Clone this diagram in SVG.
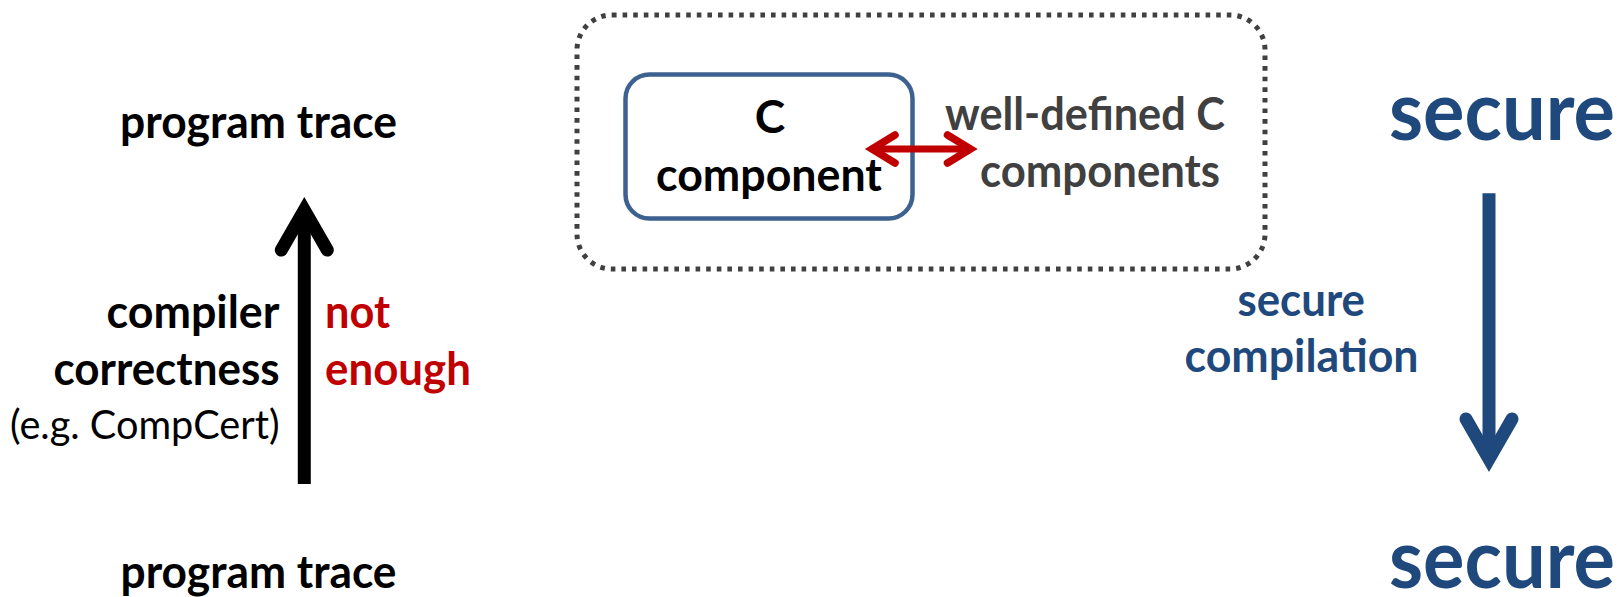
<svg xmlns="http://www.w3.org/2000/svg" width="1621" height="597" viewBox="0 0 1621 597">
  <style>
    text { font-family: Lato, "Open Sans", "Liberation Sans", sans-serif; }
    .bold { font-weight: 700; }
    .reg { font-weight: 400; }
    .black { fill: #000000; }
    .red { fill: #C00000; }
    .gray { fill: #404040; }
    .navy { fill: #1F497D; }
    .m { font-size: 46px; }
    .s { font-size: 41px; }
    .xl { font-size: 83px; }
    .shaft { fill: none; stroke-linecap: butt; }
  </style>
  <defs>
    <!-- open chevron heads, drawn in user units so they keep their size -->
    <marker id="headBlack" markerUnits="userSpaceOnUse" orient="auto" refX="0" refY="0" markerWidth="1" markerHeight="1" style="overflow:visible">
      <path d="M-40,-23 L0,0 L-40,23" fill="none" stroke="#000000" stroke-width="13" stroke-linecap="round" stroke-linejoin="miter" stroke-miterlimit="10"/>
    </marker>
    <marker id="headNavy" markerUnits="userSpaceOnUse" orient="auto" refX="0" refY="0" markerWidth="1" markerHeight="1" style="overflow:visible">
      <path d="M-40,-23 L0,0 L-40,23" fill="none" stroke="#1F497D" stroke-width="13" stroke-linecap="round" stroke-linejoin="miter" stroke-miterlimit="10"/>
    </marker>
    <marker id="headRed" markerUnits="userSpaceOnUse" orient="auto-start-reverse" refX="0" refY="0" markerWidth="1" markerHeight="1" style="overflow:visible">
      <path d="M-23,-14 L0,0 L-23,14" fill="none" stroke="#C00000" stroke-width="7.5" stroke-linecap="round" stroke-linejoin="miter" stroke-miterlimit="10"/>
    </marker>
  </defs>

  <!-- left column: compiler correctness -->
  <g id="trace-high">
    <text class="bold black m" x="120" y="138" textLength="277" lengthAdjust="spacingAndGlyphs">program trace</text>
  </g>
  <g id="trace-low">
    <text class="bold black m" x="120.5" y="588" textLength="276" lengthAdjust="spacingAndGlyphs">program trace</text>
  </g>
  <g id="correctness-label">
    <text class="bold black m" x="106.5" y="328" textLength="173" lengthAdjust="spacingAndGlyphs">compiler</text>
    <text class="bold black m" x="53.5" y="385" textLength="226" lengthAdjust="spacingAndGlyphs">correctness</text>
    <text class="reg black s" x="10" y="438.5" textLength="269.5" lengthAdjust="spacingAndGlyphs">(e.g. CompCert)</text>
  </g>
  <g id="not-enough-label">
    <text class="bold red m" x="325" y="328" textLength="65" lengthAdjust="spacingAndGlyphs">not</text>
    <text class="bold red m" x="325" y="385" textLength="146" lengthAdjust="spacingAndGlyphs">enough</text>
  </g>

  <!-- middle: component in its context -->
  <g id="context">
    <rect x="577" y="15" width="688" height="254" rx="35" ry="35" fill="none" stroke="#404040" stroke-width="5" stroke-dasharray="4.6 6"/>
  </g>
  <g id="component">
    <rect x="625.5" y="74.5" width="287" height="144" rx="24" ry="24" fill="#FFFFFF" stroke="#3E6290" stroke-width="4.5"/>
    <text class="bold black m" x="770" y="133.3" text-anchor="middle">C</text>
    <text class="bold black m" x="656" y="190.7" textLength="226" lengthAdjust="spacingAndGlyphs">component</text>
  </g>
  <g id="other-components">
    <text class="bold gray m" x="945" y="129.5" textLength="280" lengthAdjust="spacingAndGlyphs">well-defined C</text>
    <text class="bold gray m" x="980" y="187" textLength="240" lengthAdjust="spacingAndGlyphs">components</text>
  </g>

  <!-- right column: secure compilation -->
  <g id="secure-high">
    <text class="bold navy xl" x="1389" y="139.5" textLength="226" lengthAdjust="spacingAndGlyphs">secure</text>
  </g>
  <g id="secure-low">
    <text class="bold navy xl" x="1389" y="588" textLength="226" lengthAdjust="spacingAndGlyphs">secure</text>
  </g>
  <g id="secure-compilation-label">
    <text class="bold navy m" x="1237.5" y="316" textLength="127.5" lengthAdjust="spacingAndGlyphs">secure</text>
    <text class="bold navy m" x="1184.5" y="371.5" textLength="234" lengthAdjust="spacingAndGlyphs">compilation</text>
  </g>

  <!-- connectors -->
  <g id="connectors">
    <line class="shaft" x1="304.3" y1="484" x2="304.3" y2="210" stroke="#000000" stroke-width="13" marker-end="url(#headBlack)"/>
    <line class="shaft" x1="1489" y1="193.3" x2="1489" y2="459" stroke="#1F497D" stroke-width="13" marker-end="url(#headNavy)"/>
    <line class="shaft" x1="872" y1="149" x2="970.5" y2="149" stroke="#C00000" stroke-width="7" marker-start="url(#headRed)" marker-end="url(#headRed)"/>
  </g>
</svg>
